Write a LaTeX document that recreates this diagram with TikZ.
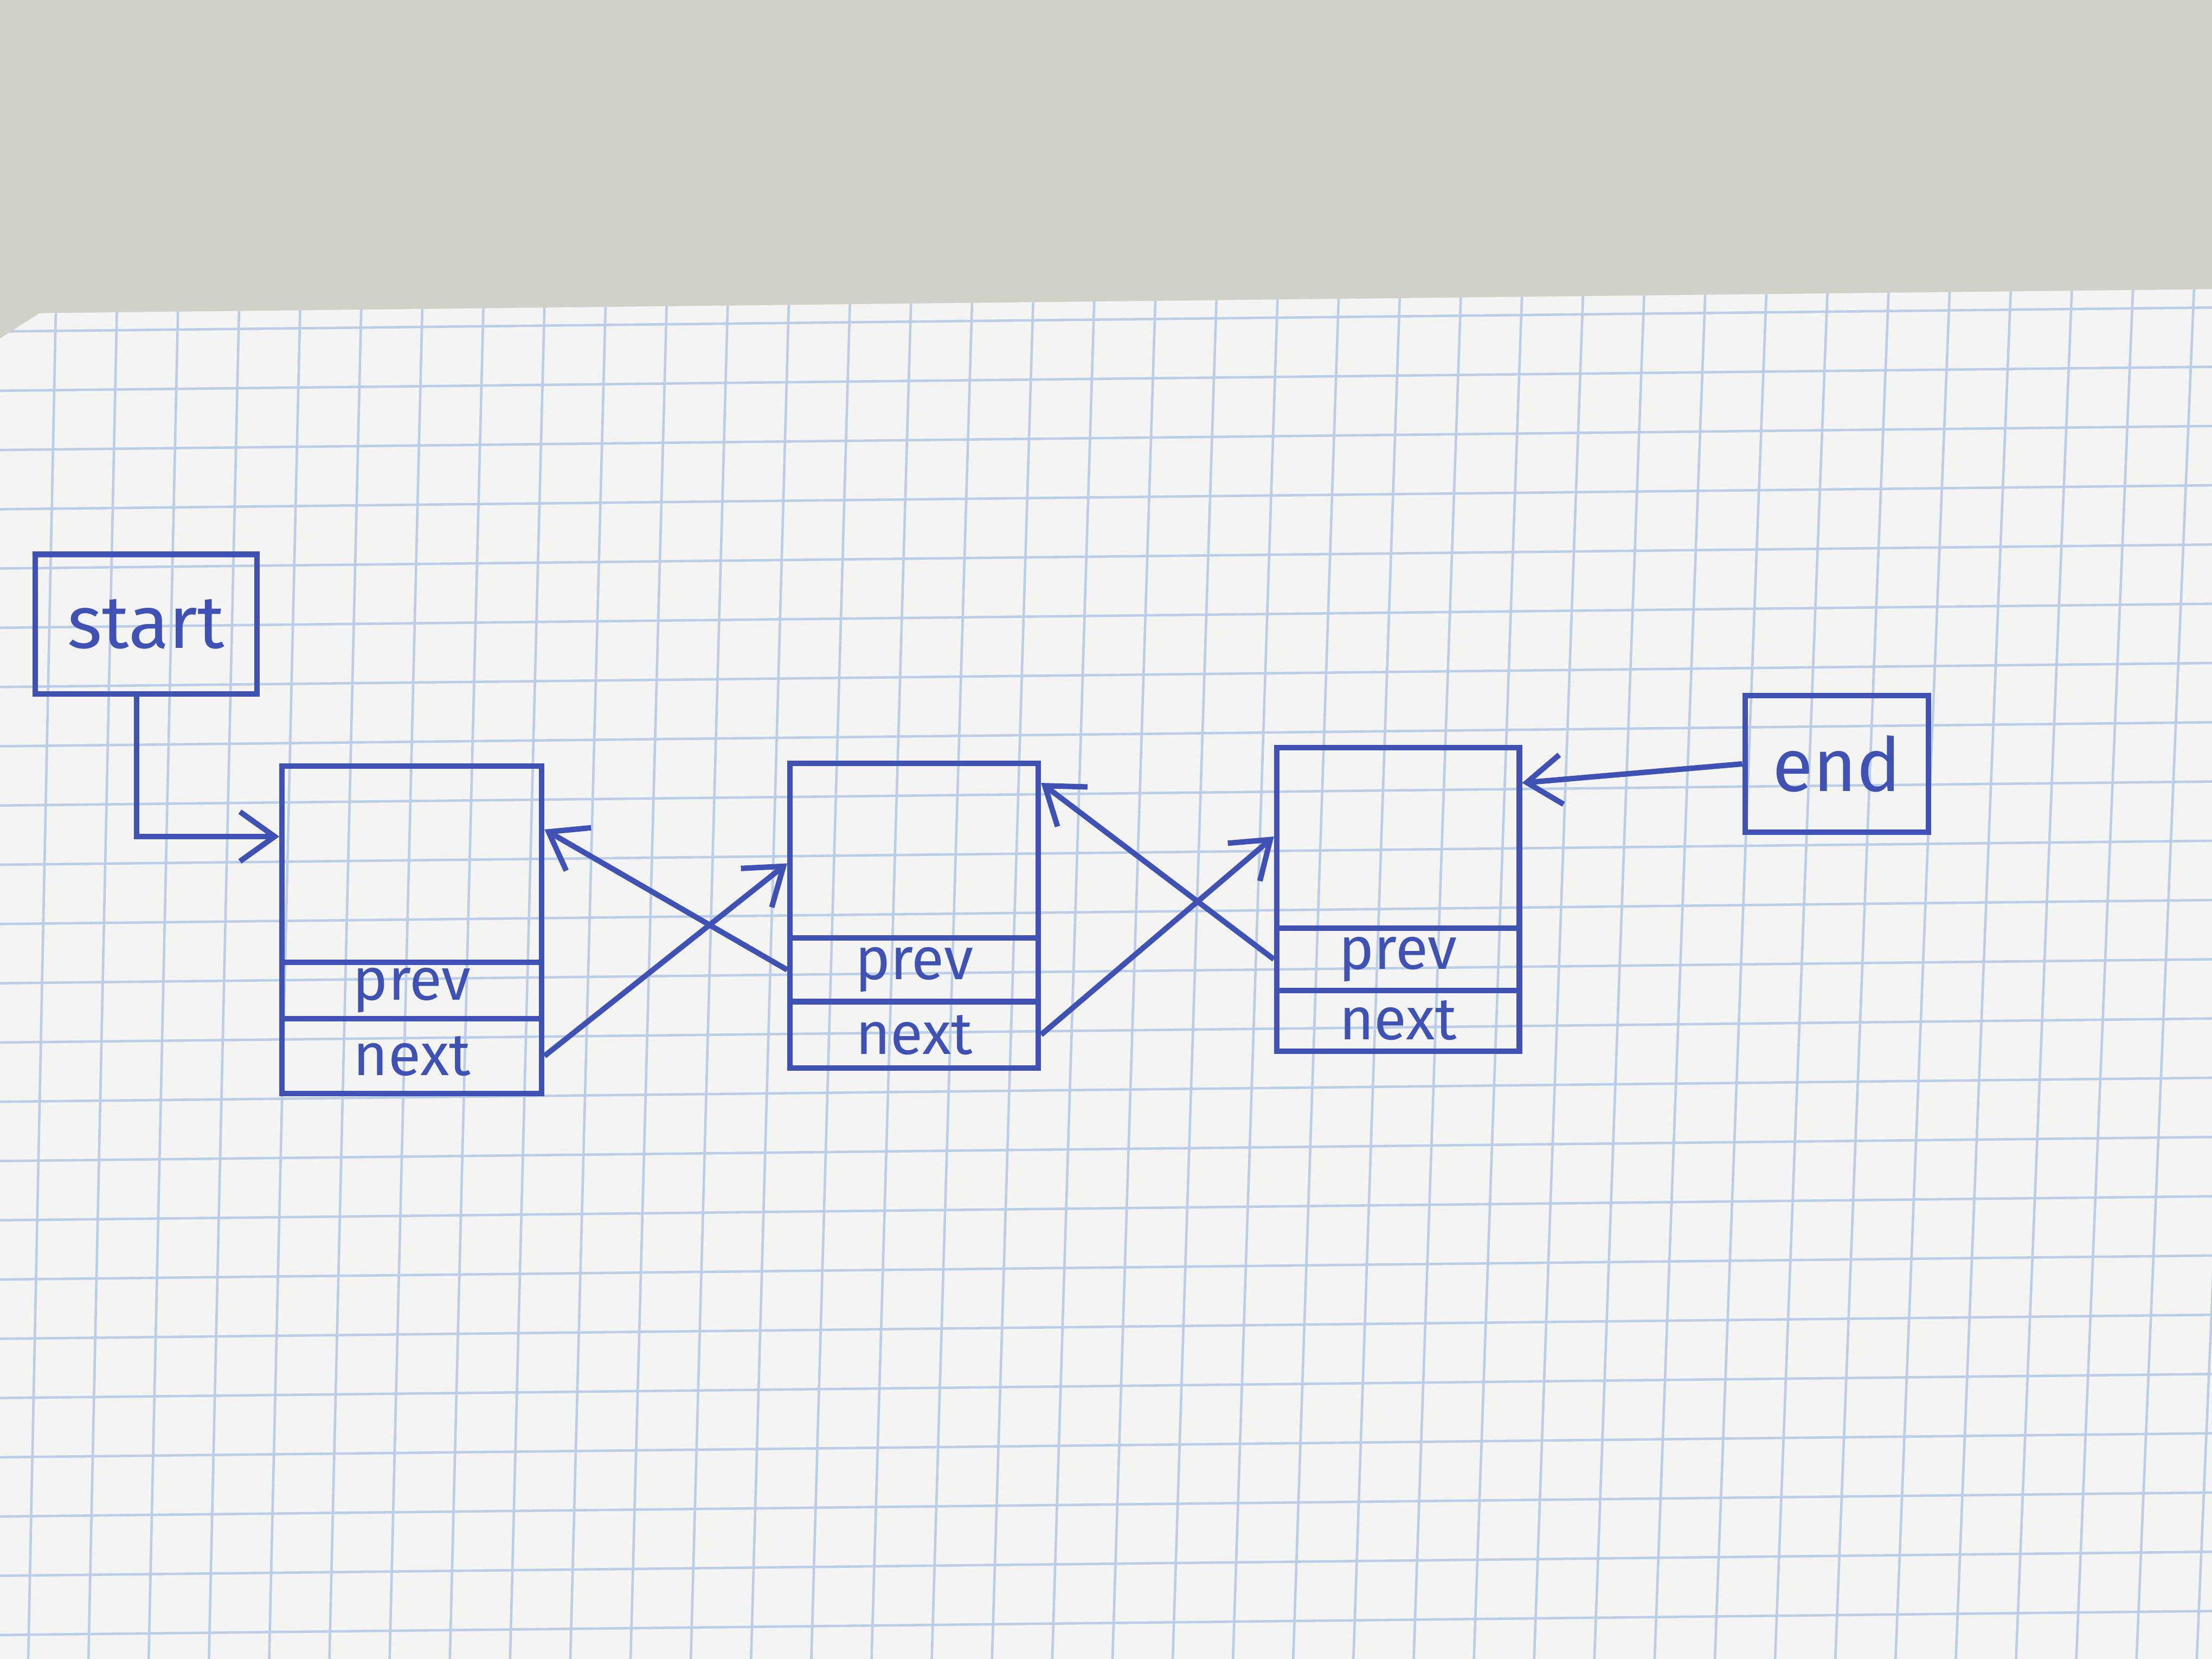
\documentclass[tikz,border=0pt]{standalone}
\usepackage{fontspec}
\setmainfont{Fira Sans}
\usetikzlibrary{arrows.meta}
\definecolor{ink}{HTML}{3F52B4}
\definecolor{desk}{HTML}{D2D1C9}
\definecolor{paper}{HTML}{F4F5F3}
\definecolor{gridc}{HTML}{BCCDE8}
\tikzset{
  cell/.style={draw=ink, line width=1.1pt, inner sep=0pt, text=ink, font=\fontsize{12}{14}\selectfont},
  lbl/.style={draw=ink, line width=1.1pt, inner sep=0pt, text=ink, font=\fontsize{15}{18}\selectfont},
  ptr/.style={draw=ink, line width=1.1pt, -{Straight Barb[length=7pt,width=10pt]}},
}
\begin{document}
\begin{tikzpicture}[x=0.01cm,y=-0.01cm]
\useasboundingbox (0,0) rectangle (1568,1176);
% background
\fill[desk] (0,0) rectangle (1568,1176);
\fill[paper] (28,222) -- (1568,205) -- (1568,1176) -- (0,1176) -- (0,240) -- cycle;
\begin{scope}
\clip (28,222) -- (1568,205) -- (1568,1176) -- (0,1176) -- (0,240) -- cycle;
\foreach \i in {0,...,37} {
  \draw[gridc, line width=0.5pt] (40+\i*43.3,200) -- (20+\i*43.3-\i*0.6,1176);
}
\foreach \j in {0,...,23} {
  \draw[gridc, line width=0.5pt] (0,235+\j*42) -- (1568,218+\j*42);
}
\end{scope}
% start / end
\node[lbl, minimum width=1.57cm, minimum height=0.99cm] (start) at (103.5,442.5) {start};
\node[lbl, minimum width=1.30cm, minimum height=0.97cm] (end) at (1302,541.5) {end};
% node 1
\node[cell, minimum width=1.84cm, minimum height=1.39cm] (a) at (292,612.5) {};
\node[cell, minimum width=1.84cm, minimum height=0.40cm] (ap) at (292,702) {prev};
\node[cell, minimum width=1.84cm, minimum height=0.53cm] (an) at (292,748.5) {next};
% node 2
\node[cell, minimum width=1.76cm, minimum height=1.24cm] (b) at (648,603) {};
\node[cell, minimum width=1.76cm, minimum height=0.45cm] (bp) at (648,687.5) {prev};
\node[cell, minimum width=1.76cm, minimum height=0.47cm] (bn) at (648,733.5) {next};
% node 3
\node[cell, minimum width=1.72cm, minimum height=1.28cm] (c) at (991,594) {};
\node[cell, minimum width=1.72cm, minimum height=0.44cm] (cp) at (991,680) {prev};
\node[cell, minimum width=1.72cm, minimum height=0.43cm] (cn) at (991,723.5) {next};
% connectors
\draw[ptr] ([xshift=-0.065cm]start.south) |- ([yshift=0.195cm]a.west);
\draw[ptr] (end.west) -- ([yshift=0.39cm]c.east);
\draw[ptr] (an.east) -- ([yshift=-0.09cm]b.west);
\draw[ptr] (bp.west) -- ([yshift=0.245cm]a.east);
\draw[ptr] (bn.east) -- ([yshift=0.01cm]c.west);
\draw[ptr] (cp.west) -- ([yshift=0.48cm]b.east);
\end{tikzpicture}
\end{document}
